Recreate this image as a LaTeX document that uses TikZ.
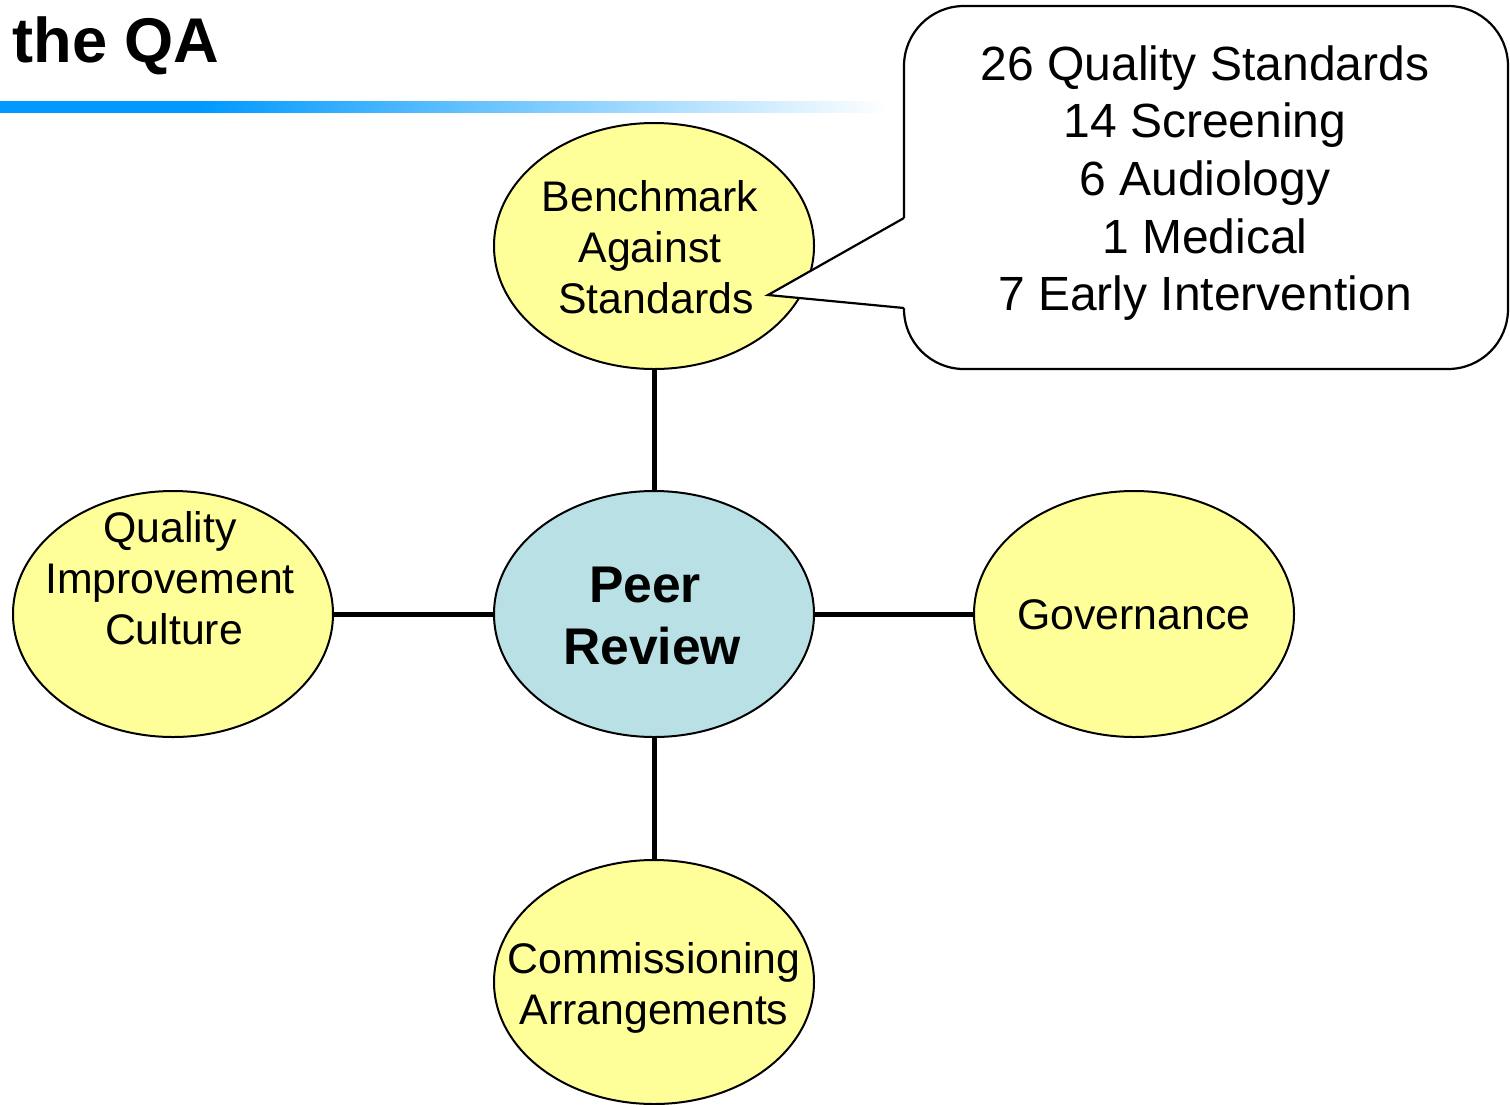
\documentclass[tikz,border=0pt]{standalone}
\usepackage{fontspec}
\setmainfont{Liberation Sans}
\usetikzlibrary{shapes.geometric}
\definecolor{ylw}{HTML}{FFFF99}
\definecolor{pblue}{HTML}{B9E0E5}
\definecolor{barblue}{HTML}{0099FF}
\pgfdeclarehorizontalshading{barshade}{100bp}{color(0bp)=(barblue); color(36bp)=(barblue); color(74bp)=(white); color(100bp)=(white)}
\tikzset{
  oval/.style={ellipse, draw=black, line width=1pt, minimum width=160pt, minimum height=123pt, inner sep=0pt},
  yoval/.style={oval, fill=ylw},
  ntext/.style={align=center, font=\fontsize{21.4pt}{25.5pt}\selectfont, inner sep=0pt},
  link/.style={line width=2.5pt},
}
\begin{document}
\begin{tikzpicture}[x=0.5pt,y=-0.5pt]
\useasboundingbox (0,0) rectangle (1510,1104);
% title and bar
\node[anchor=base west, inner sep=0pt, font=\fontsize{31.6pt}{36pt}\selectfont\bfseries] (title) at (12,62) {the QA};
\shade[shading=barshade] (0,101) rectangle (905,112);
% ellipses
\node[yoval] (bench) at (654,246) {};
\node[oval, fill=pblue] (peer) at (654,614) {};
\node[yoval] (qual) at (173,614) {};
\node[yoval] (gov) at (1134,614) {};
\node[yoval, minimum height=122pt] (comm) at (654,982) {};
% connectors
\draw[link] (bench.south) -- (peer.north);
\draw[link] (peer.south) -- (comm.north);
\draw[link] (peer.west) -- (qual.east);
\draw[link] (peer.east) -- (gov.west);
% texts
\node[ntext] (benchT) at (650,247) {Benchmark\\Against\\\ Standards};
\node[ntext] (qualT) at (170,578) {Quality\\Improvement\\\kern4pt Culture};
\node[ntext] (govT) at (1134,615) {Governance};
\node[ntext] (commT) at (654,988) {Commissioning\\Arrangements};
\node[align=center, inner sep=0pt, font=\fontsize{25.8pt}{31pt}\selectfont\bfseries] (peerT) at (652,616) {Peer\kern7pt\\Review};
% callout
\node[draw=black, fill=white, line width=1.1pt, rounded corners=30pt, minimum width=302pt, minimum height=181.5pt, inner sep=0pt] (call) at (1206,187.5) {};
\coordinate (ptA) at (904,218);
\coordinate (tip) at (768,295);
\coordinate (ptB) at (904,308);
\fill[white] (ptA) -- (tip) -- (ptB) -- ++(3,0) -- ([xshift=3]ptA.center) -- cycle;
\draw[line width=1.1pt, line join=miter] (ptA) -- (tip) -- (ptB);
\node[align=center, inner sep=0pt, font=\fontsize{24pt}{28.8pt}\selectfont] (callT) at (1205,183) {26 Quality Standards\\14 Screening\\6 Audiology\\1 Medical\\7 Early Intervention};
\end{tikzpicture}
\end{document}
